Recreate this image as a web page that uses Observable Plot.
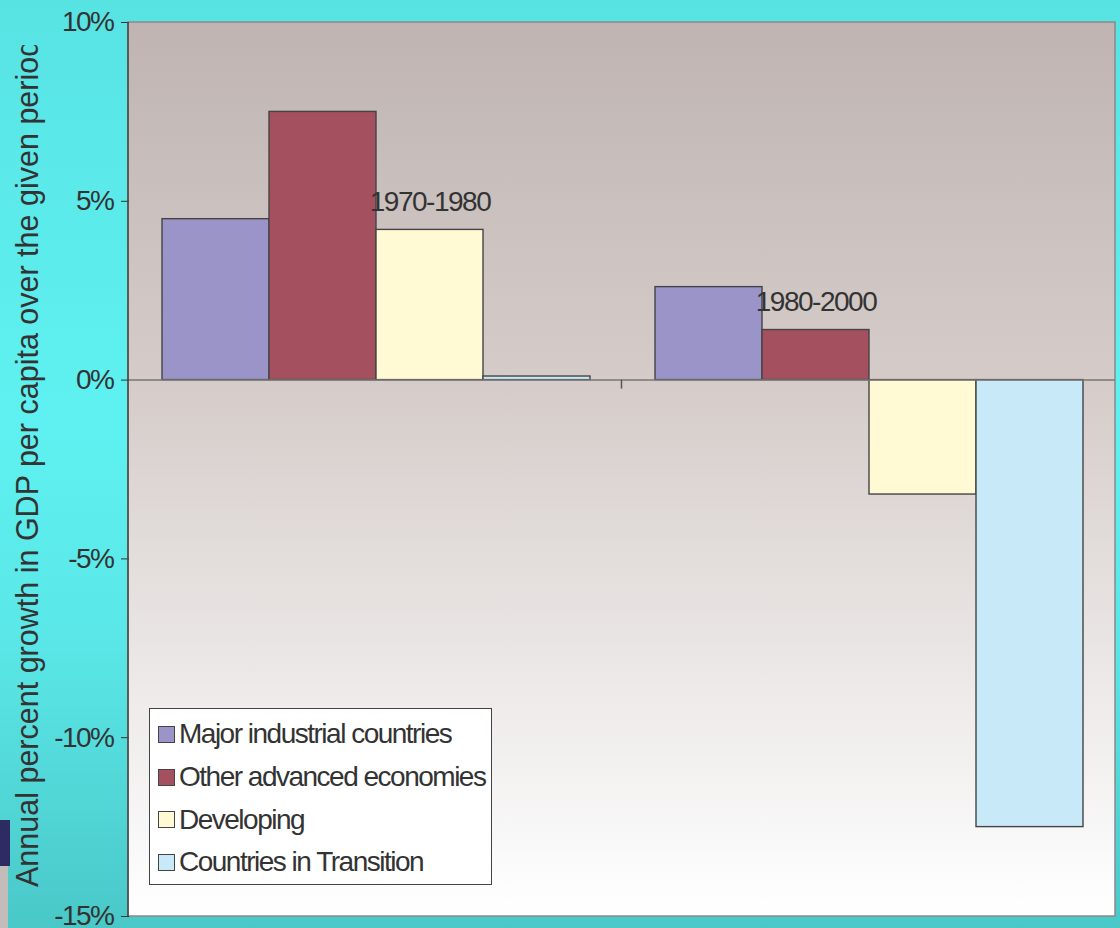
<!DOCTYPE html>
<html>
<head>
<meta charset="utf-8">
<script src="https://cdn.jsdelivr.net/npm/d3@7"></script>
<script src="https://cdn.jsdelivr.net/npm/@observablehq/plot@0.6"></script>
<style>
  html, body { margin: 0; padding: 0; }
  body {
    width: 1120px; height: 928px; overflow: hidden; position: relative;
    background: linear-gradient(180deg, #58e3e3 0%, #5ff1f1 45%, #5ae6e6 70%, #4ac8c8 100%);
    font-family: "Liberation Sans", Arial, sans-serif;
  }
  #chart { position: absolute; left: 0; top: 0; }
  #ytitle-clip { position: absolute; left: 0; top: 45px; width: 70px; height: 860px; overflow: hidden; }
  #navy { position: absolute; left: 0; top: 820px; width: 10px; height: 46px; background: #2e2b62; }
  #greyblk { position: absolute; left: 0; top: 866px; width: 8px; height: 62px; background: #c4bcbb; }
  #legend {
    position: absolute; left: 149px; top: 708px; width: 341px; height: 171px;
    background: #fff; border: 1px solid #444; padding-top: 4px; box-sizing: content-box;
  }
  .row { height: 42.7px; display: flex; align-items: center; font-size: 28px; letter-spacing: -1.5px; color: #333; white-space: nowrap; }
  .sw { width: 15px; height: 15px; border: 1.5px solid #444; margin-left: 8px; margin-right: 4px; flex: none; }
</style>
</head>
<body>
<div id="navy"></div>
<div id="greyblk"></div>
<div id="chart"></div>
<div id="ytitle-clip"></div>
<div id="legend"></div>
<script>
// ---- data ----
const periods = ["1970-1980", "1980-2000"];
const series = ["Major industrial countries", "Other advanced economies", "Developing", "Countries in Transition"];
const values1970 = [4.5, 7.5, 4.2, 0.1];
const values1980 = [2.6, 1.4, -3.2, -12.5];
const colors = ["#9b94c8", "#a5505f", "#fffad4", "#c8e9f8"];
const periodLabelSeries = ["Developing", "Other advanced economies"];
const yTicks = [-15, -10, -5, 0, 5, 10];
const yTitle = "Annual percent growth in GDP per capita over the given period";

const valuesByPeriod = [values1970, values1980];
const data = periods.flatMap((p, i) => series.map((s, j) => ({period: p, series: s, value: valuesByPeriod[i][j]})));
const labelData = periods.map((p, i) => {
  const d = data.find(e => e.period === p && e.series === periodLabelSeries[i]);
  return {period: p, series: d.series, value: d.value, label: p};
});

// ---- layout ----
const W = 1120, H = 928, mL = 128, mR = 5, mT = 22, mB = 12;

const svg = Plot.plot({
  width: W, height: H,
  marginLeft: mL, marginRight: mR, marginTop: mT, marginBottom: mB,
  style: {background: "transparent", fontFamily: "'Liberation Sans', Arial, sans-serif", fontSize: "28px", color: "#333", letterSpacing: "-1.5px", overflow: "visible"},
  fx: {domain: periods, padding: 0, axis: null, label: null},
  x: {domain: series, paddingInner: 0, paddingOuter: 0.285, axis: null, label: null},
  y: {domain: [-15, 10], ticks: yTicks, tickFormat: d => d + "%", tickSize: 8, tickPadding: 8, label: null},
  color: {domain: series, range: colors},
  marks: [
    Plot.barY(data, {fx: "period", x: "series", y: "value", fill: "series", stroke: "#444", strokeWidth: 1.4}),
    Plot.ruleY([0], {stroke: "#777", strokeWidth: 1.5}),
    Plot.text(labelData, {fx: "period", x: "series", y: "value", text: "label", dy: -19, lineAnchor: "bottom", fill: "#333", fontSize: 28})
  ]
});

document.getElementById("chart").appendChild(svg);

// background gradient, frame border, axis line, centre tick
const ys = svg.scale("y");
const yTop = ys.apply(10), yBot = ys.apply(-15), y0 = ys.apply(0);
const xMid = mL + (W - mL - mR) / 2;
const s = d3.select(svg);
const bg = s.insert("g", ":first-child");
const grad = bg.append("defs").append("linearGradient").attr("id", "plotbg").attr("x1", 0).attr("y1", 0).attr("x2", 0).attr("y2", 1);
grad.append("stop").attr("offset", "0%").attr("stop-color", "#bfb4b2");
grad.append("stop").attr("offset", "40%").attr("stop-color", "#d5ccc9");
grad.append("stop").attr("offset", "95%").attr("stop-color", "#fbfbfb");
grad.append("stop").attr("offset", "100%").attr("stop-color", "#ffffff");
bg.append("rect").attr("x", mL).attr("y", yTop).attr("width", W - mL - mR).attr("height", yBot - yTop)
  .attr("fill", "url(#plotbg)").attr("stroke", "#8e8888").attr("stroke-width", 1.5);
s.append("line").attr("x1", mL).attr("x2", mL).attr("y1", yTop).attr("y2", yBot).attr("stroke", "#444").attr("stroke-width", 1.5);
s.append("line").attr("x1", xMid).attr("x2", xMid).attr("y1", y0).attr("y2", y0 + 9).attr("stroke", "#555").attr("stroke-width", 1.5);

// y title (clipped at top like the reference)
const tclip = d3.select("#ytitle-clip").append("svg").attr("width", 70).attr("height", 860);
tclip.append("text").attr("transform", "translate(38," + (887 - 45) + ") rotate(-90)")
  .attr("font-family", "'Liberation Sans', Arial, sans-serif").attr("font-size", 30.5).attr("fill", "#333")
  .text(yTitle);

// legend
const leg = d3.select("#legend");
series.forEach((name, i) => {
  const r = leg.append("div").attr("class", "row");
  r.append("div").attr("class", "sw").style("background", colors[i]);
  r.append("span").text(name);
});
</script>
</body>
</html>
